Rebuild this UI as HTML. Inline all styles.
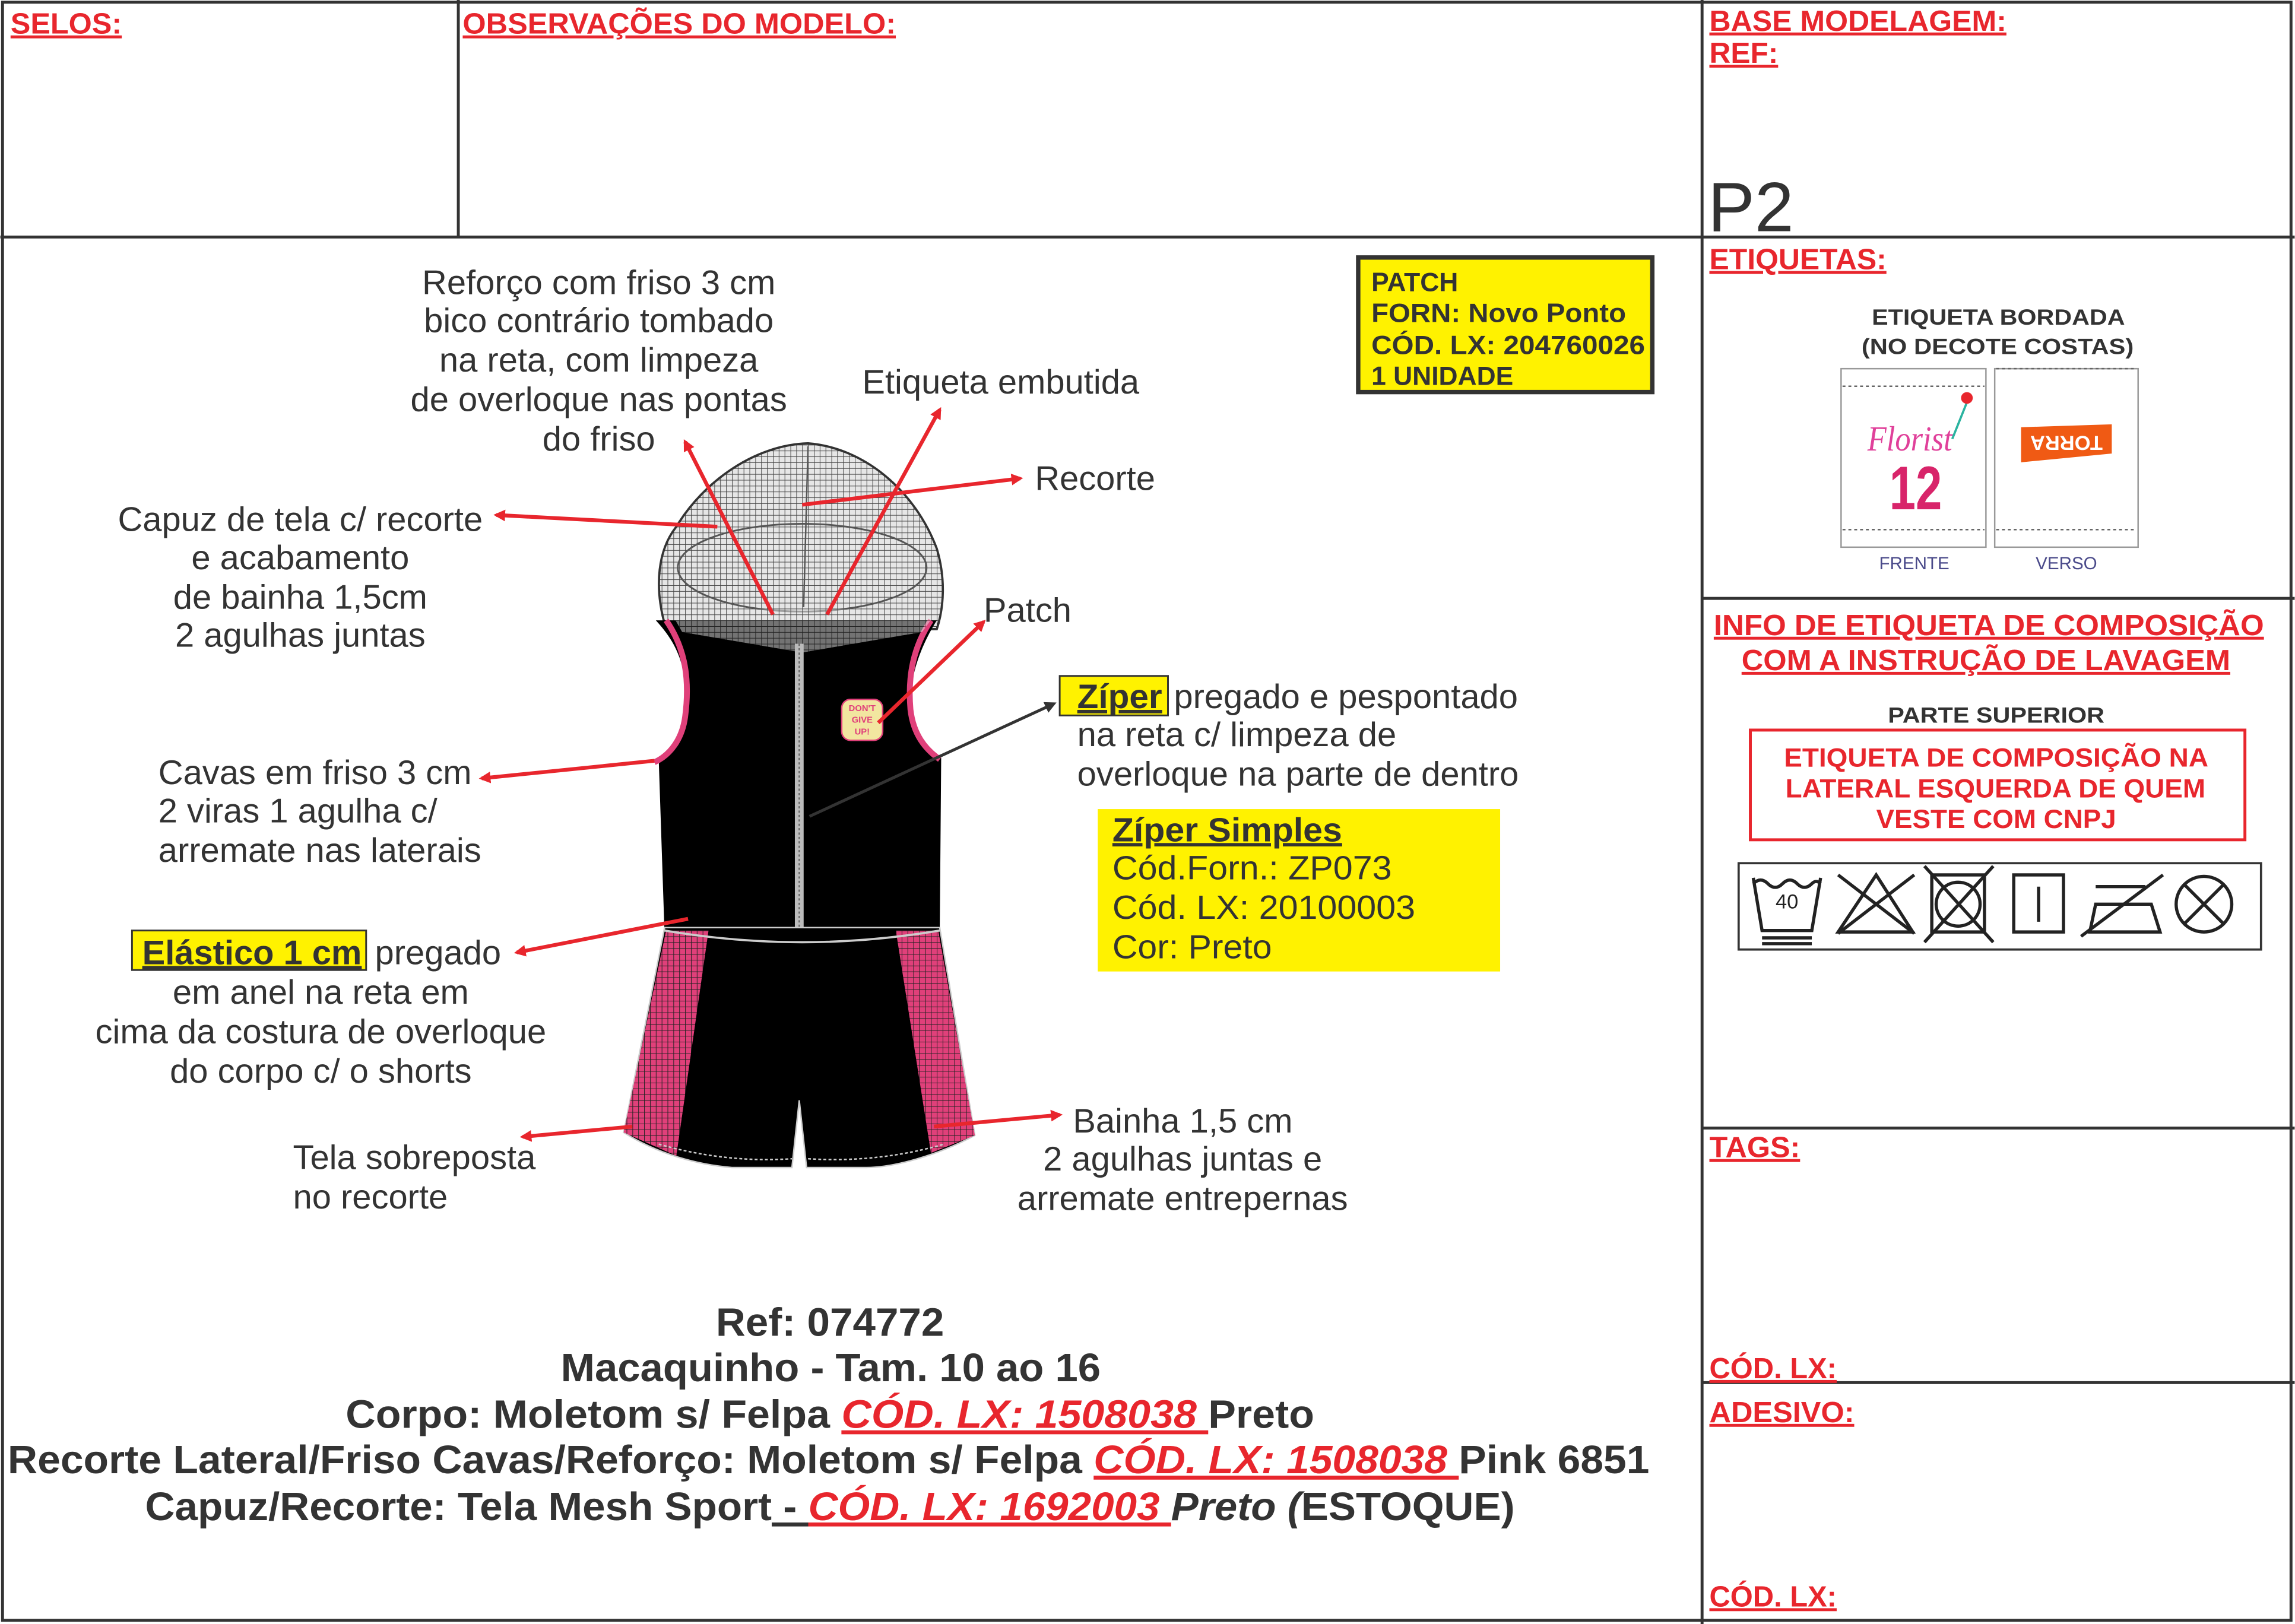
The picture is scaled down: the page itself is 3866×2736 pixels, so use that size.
<!DOCTYPE html>
<html><head><meta charset="utf-8">
<style>
html,body{margin:0;padding:0;background:#fff;}
svg{display:block;}
.r{font-family:"Liberation Sans",sans-serif;font-weight:bold;fill:#e8262d;text-decoration:underline;}
.t{font-family:"Liberation Sans",sans-serif;fill:#333;font-size:23.5px;}
.b{font-family:"Liberation Sans",sans-serif;font-weight:bold;fill:#333;}
</style></head>
<body>
<svg width="3866" height="2736" viewBox="0 0 1568 1110" xmlns="http://www.w3.org/2000/svg">
<defs>
<pattern id="mesh" width="4" height="4" patternUnits="userSpaceOnUse">
<rect width="4" height="4" fill="#e6e6e6"/><path d="M0 0H4M0 0V4" stroke="#444" stroke-width="0.8"/></pattern>
<pattern id="pmesh" width="4" height="4" patternUnits="userSpaceOnUse">
<rect width="4" height="4" fill="#e0407a"/><path d="M0 0H4M0 0V4" stroke="#222" stroke-width="0.8"/></pattern>
<marker id="ar" markerWidth="8" markerHeight="8" refX="6" refY="4" orient="auto" markerUnits="userSpaceOnUse" viewBox="0 0 8 8"><path d="M0,0 L8,4 L0,8 z" fill="#e8262d"/></marker>
<marker id="ak" markerWidth="8" markerHeight="8" refX="6" refY="4" orient="auto" markerUnits="userSpaceOnUse" viewBox="0 0 8 8"><path d="M0,0 L8,4 L0,8 z" fill="#333"/></marker>
</defs>
<rect x="0" y="0" width="1568" height="1110" fill="#fff"/>
<g stroke="#333" stroke-width="2" fill="none">
<rect x="1.5" y="1.5" width="1564" height="1106"/>
<line x1="0" y1="162" x2="1568" y2="162"/>
<line x1="313" y1="0" x2="313" y2="162"/>
<line x1="1163" y1="0" x2="1163" y2="1110"/>
<line x1="1163" y1="409" x2="1568" y2="409"/>
<line x1="1163" y1="771" x2="1568" y2="771"/>
<line x1="1163" y1="945" x2="1568" y2="945"/>
</g>
<g class="r" font-size="20" lengthAdjust="spacingAndGlyphs">
<text x="7" y="23" textLength="76" lengthAdjust="spacingAndGlyphs">SELOS:</text>
<text x="316" y="23" textLength="296" lengthAdjust="spacingAndGlyphs">OBSERVAÇÕES DO MODELO:</text>
<text x="1168" y="21" textLength="203" lengthAdjust="spacingAndGlyphs">BASE MODELAGEM:</text>
<text x="1168" y="43" textLength="47" lengthAdjust="spacingAndGlyphs">REF:</text>
<text x="1168" y="184" textLength="121" lengthAdjust="spacingAndGlyphs">ETIQUETAS:</text>
<text x="1168" y="791" textLength="62" lengthAdjust="spacingAndGlyphs">TAGS:</text>
<text x="1168" y="942" textLength="87" lengthAdjust="spacingAndGlyphs">CÓD. LX:</text>
<text x="1168" y="972" textLength="99" lengthAdjust="spacingAndGlyphs">ADESIVO:</text>
<text x="1168" y="1098" textLength="87" lengthAdjust="spacingAndGlyphs">CÓD. LX:</text>
<text x="1171" y="434" textLength="376" lengthAdjust="spacingAndGlyphs">INFO DE ETIQUETA DE COMPOSIÇÃO</text>
<text x="1190" y="458" textLength="334" lengthAdjust="spacingAndGlyphs">COM A INSTRUÇÃO DE LAVAGEM</text>
</g>
<text x="1167" y="158" font-family="Liberation Sans,sans-serif" font-size="48" fill="#333">P2</text>
<g class="b" font-size="15">
<text x="1279" y="222" textLength="173" lengthAdjust="spacingAndGlyphs">ETIQUETA BORDADA</text>
<text x="1272" y="242" textLength="186" lengthAdjust="spacingAndGlyphs">(NO DECOTE COSTAS)</text>
<text x="1290" y="494" textLength="148" lengthAdjust="spacingAndGlyphs">PARTE SUPERIOR</text>
</g>
<g fill="#fff" stroke="#999" stroke-width="1">
<rect x="1258" y="252" width="99" height="122"/>
<rect x="1363" y="252" width="98" height="122"/>
</g>
<g stroke="#666" stroke-width="1" stroke-dasharray="2,2">
<line x1="1259" y1="264" x2="1356" y2="264"/><line x1="1259" y1="362" x2="1356" y2="362"/>
<line x1="1364" y1="252" x2="1460" y2="252"/><line x1="1364" y1="362" x2="1460" y2="362"/>
</g>
<text x="1276" y="308" font-family="Liberation Serif,serif" font-style="italic" font-size="24" fill="#e0409a" textLength="58" lengthAdjust="spacingAndGlyphs">Florist</text>
<path d="M1334,300 Q1340,285 1344,275" stroke="#2bb3a0" stroke-width="1.5" fill="none"/>
<circle cx="1344" cy="272" r="4" fill="#e8262d"/>
<text x="1309" y="348" text-anchor="middle" font-family="Liberation Sans,sans-serif" font-weight="bold" font-size="42" fill="#d8246a" textLength="36" lengthAdjust="spacingAndGlyphs">12</text>
<polygon points="1381,292 1443,290 1443,310 1381,316" fill="#f05a14"/>
<text x="1412" y="306" text-anchor="middle" font-family="Liberation Sans,sans-serif" font-weight="bold" font-size="14" fill="#fff" transform="rotate(180 1412 302)">TORRA</text>
<g font-family="Liberation Sans,sans-serif" font-size="12" fill="#4a4a8a" text-anchor="middle">
<text x="1308" y="389">FRENTE</text><text x="1412" y="389">VERSO</text></g>
<rect x="1196" y="499" width="338" height="75" fill="none" stroke="#e8262d" stroke-width="2"/>
<g font-family="Liberation Sans,sans-serif" font-weight="bold" font-size="18" fill="#e8262d">
<text x="1219" y="524" textLength="290" lengthAdjust="spacingAndGlyphs">ETIQUETA DE COMPOSIÇÃO NA</text>
<text x="1220" y="545" textLength="287" lengthAdjust="spacingAndGlyphs">LATERAL ESQUERDA DE QUEM</text>
<text x="1282" y="566" textLength="164" lengthAdjust="spacingAndGlyphs">VESTE COM CNPJ</text></g>
<rect x="1188" y="590" width="357" height="59" fill="none" stroke="#333" stroke-width="1.5"/>
<g stroke="#222" stroke-width="2.2" fill="none">
<path d="M1198,600 L1204,636 L1238,636 L1244,600"/><path d="M1198,604 q5,-5 10,0 q5,5 10,0 q5,-5 10,0 q5,5 10,0 q3,-3 6,0"/>
<line x1="1204" y1="641" x2="1238" y2="641"/><line x1="1204" y1="645" x2="1238" y2="645"/>
<path d="M1282,598 L1307,637 L1256,637 Z"/><line x1="1256" y1="598" x2="1308" y2="638"/><line x1="1308" y1="598" x2="1256" y2="638"/>
<rect x="1320" y="598" width="36" height="39"/><circle cx="1338" cy="618" r="15"/><line x1="1315" y1="592" x2="1362" y2="644"/><line x1="1362" y1="592" x2="1315" y2="644"/>
<rect x="1376" y="598" width="34" height="39"/><line x1="1393" y1="606" x2="1393" y2="630"/>
<path d="M1428,637 L1432,618 L1470,618 L1476,637 Z"/><line x1="1432" y1="606" x2="1466" y2="606"/><line x1="1422" y1="640" x2="1478" y2="598"/>
<circle cx="1506" cy="618" r="19"/><line x1="1492" y1="604" x2="1520" y2="632"/><line x1="1520" y1="604" x2="1492" y2="632"/>
</g>
<text x="1221" y="621" text-anchor="middle" font-family="Liberation Sans,sans-serif" font-size="14" fill="#222">40</text>

<rect x="928" y="176" width="201" height="92" fill="#fff200" stroke="#333" stroke-width="3"/>
<g font-family="Liberation Sans,sans-serif" font-weight="bold" font-size="18" fill="#333">
<text x="937" y="199">PATCH</text><text x="937" y="220" textLength="174" lengthAdjust="spacingAndGlyphs">FORN: Novo Ponto</text>
<text x="937" y="242" textLength="187" lengthAdjust="spacingAndGlyphs">CÓD. LX: 204760026</text><text x="937" y="263">1 UNIDADE</text></g>
<rect x="750" y="553" width="275" height="111" fill="#fff200"/>
<g font-family="Liberation Sans,sans-serif" font-size="23" fill="#333">
<text x="760" y="575" font-weight="bold" text-decoration="underline" textLength="157" lengthAdjust="spacingAndGlyphs">Zíper Simples</text>
<text x="760" y="601" textLength="191" lengthAdjust="spacingAndGlyphs">Cód.Forn.: ZP073</text><text x="760" y="628" textLength="207" lengthAdjust="spacingAndGlyphs">Cód. LX: 20100003</text><text x="760" y="655" textLength="109" lengthAdjust="spacingAndGlyphs">Cor: Preto</text></g>

<!-- garment -->
<path d="M455,430 C446,400 450,375 462,360 C480,330 515,304 552,303 C590,306 625,335 640,375 C646,395 645,415 640,430 Z" fill="url(#mesh)" stroke="#333" stroke-width="1.5"/>
<ellipse cx="548" cy="388" rx="85" ry="30" fill="none" stroke="#555" stroke-width="1.2"/>
<line x1="552" y1="305" x2="549" y2="415" stroke="#555" stroke-width="1"/>
<path d="M448,424 L640,424 C630,440 622,460 622,480 C622,500 632,512 643,518 L642,640 L454,640 L450,520 C462,510 470,495 468,470 C467,448 458,435 448,424 Z" fill="#000"/>
<path d="M455,424 C466,440 472,460 468,490 C466,505 458,516 447,521" fill="none" stroke="#e0407a" stroke-width="4"/>
<path d="M636,424 C624,442 620,462 622,485 C624,502 632,512 642,519" fill="none" stroke="#e0407a" stroke-width="4"/>
<path d="M458,418 L548,416 L640,418 L630,432 L548,446 L466,432 Z" fill="url(#mesh)" opacity="0.5"/>
<rect x="543" y="440" width="6" height="200" fill="#bbb"/>
<line x1="546" y1="440" x2="546" y2="640" stroke="#666" stroke-width="1" stroke-dasharray="1.5,1.5"/>
<rect x="575" y="478" width="28" height="28" rx="6" fill="#f2e6a0" stroke="#e0407a"/>
<g font-family="Liberation Sans,sans-serif" font-size="6" font-weight="bold" fill="#e0407a" text-anchor="middle">
<text x="589" y="486">DON'T</text><text x="589" y="494">GIVE</text><text x="589" y="502">UP!</text></g>
<path d="M454,634 L642,634 L666,776 C640,790 610,798 592,798 L551,798 L546,752 L541,798 L500,798 C475,796 448,788 426,774 Z" fill="#000" stroke="#ccc" stroke-width="1"/>
<path d="M455,636 L484,636 L462,790 L426,774 Z" fill="url(#pmesh)"/>
<path d="M612,636 L641,636 L666,776 L636,788 Z" fill="url(#pmesh)"/>
<path d="M454,636 Q548,652 642,636" fill="none" stroke="#ccc" stroke-width="1.5"/>
<path d="M450,782 Q495,795 541,792 M552,792 Q600,795 645,782" fill="none" stroke="#ccc" stroke-width="1" stroke-dasharray="2,1.5"/>

<g stroke="#e8262d" stroke-width="2.6" fill="none" marker-end="url(#ar)">
<line x1="528" y1="420" x2="468" y2="302"/>
<line x1="565" y1="420" x2="642" y2="280"/>
<line x1="548" y1="345" x2="697" y2="327"/>
<line x1="490" y1="360" x2="339" y2="352"/>
<line x1="600" y1="494" x2="672" y2="425"/>
<line x1="447" y1="520" x2="329" y2="532"/>
<line x1="470" y1="628" x2="353" y2="651"/>
<line x1="432" y1="770" x2="357" y2="777"/>
<line x1="638" y1="770" x2="724" y2="762"/>
</g>
<line x1="553" y1="558" x2="720" y2="481" stroke="#333" stroke-width="2" marker-end="url(#ak)"/>

<g class="t">
<g text-anchor="middle">
<text x="409" y="201">Reforço com friso 3 cm</text><text x="409" y="227">bico contrário tombado</text>
<text x="409" y="254">na reta, com limpeza</text><text x="409" y="281">de overloque nas pontas</text>
<text x="409" y="308">do friso</text>
<text x="205" y="363">Capuz de tela c/ recorte</text><text x="205" y="389">e acabamento</text>
<text x="205" y="416">de bainha 1,5cm</text><text x="205" y="442">2 agulhas juntas</text>
<text x="219" y="686">em anel na reta em</text><text x="219" y="713">cima da costura de overloque</text>
<text x="219" y="740">do corpo c/ o shorts</text>
<text x="808" y="800">2 agulhas juntas e</text><text x="808" y="827">arremate entrepernas</text>
</g>
<text x="589" y="269">Etiqueta embutida</text>
<text x="707" y="335">Recorte</text>
<text x="672" y="425">Patch</text>
<text x="802" y="484">pregado e pespontado</text>
<text x="736" y="510">na reta c/ limpeza de</text>
<text x="736" y="537">overloque na parte de dentro</text>
<text x="108" y="536">Cavas em friso 3 cm</text>
<text x="108" y="562">2 viras 1 agulha c/</text>
<text x="108" y="589">arremate nas laterais</text>
<text x="256" y="659">pregado</text>
<text x="200" y="799">Tela sobreposta</text><text x="200" y="826">no recorte</text>
<text x="733" y="774">Bainha 1,5 cm</text>
</g>
<rect x="724" y="462" width="74" height="27" fill="#fff200" stroke="#333" stroke-width="1.2"/>
<text x="736" y="484" class="t" font-weight="bold" text-decoration="underline" textLength="58" lengthAdjust="spacingAndGlyphs">Zíper</text>
<rect x="90" y="636" width="160" height="27" fill="#fff200" stroke="#333" stroke-width="1.2"/>
<text x="97" y="659" class="t" font-weight="bold" text-decoration="underline" textLength="150" lengthAdjust="spacingAndGlyphs">Elástico 1 cm</text>

<g class="b" font-size="27">
<text x="489" y="913" textLength="156" lengthAdjust="spacingAndGlyphs">Ref: 074772</text>
<text x="383" y="944" textLength="369" lengthAdjust="spacingAndGlyphs">Macaquinho - Tam. 10 ao 16</text>
<text x="236" y="976" textLength="662" lengthAdjust="spacingAndGlyphs">Corpo: Moletom s/ Felpa  <tspan fill="#e8262d" font-style="italic" text-decoration="underline">CÓD. LX: 1508038 </tspan>Preto</text>
<text x="5" y="1007" textLength="1122" lengthAdjust="spacingAndGlyphs">Recorte Lateral/Friso Cavas/Reforço: Moletom s/ Felpa  <tspan fill="#e8262d" font-style="italic" text-decoration="underline">CÓD. LX: 1508038 </tspan>Pink 6851</text>
<text x="99" y="1039" textLength="936" lengthAdjust="spacingAndGlyphs">Capuz/Recorte: Tela Mesh Sport<tspan text-decoration="underline"> - </tspan><tspan fill="#e8262d" font-style="italic" text-decoration="underline">CÓD. LX: 1692003 </tspan><tspan font-style="italic">Preto (</tspan>ESTOQUE)</text>
</g>
</svg>
</body></html>
